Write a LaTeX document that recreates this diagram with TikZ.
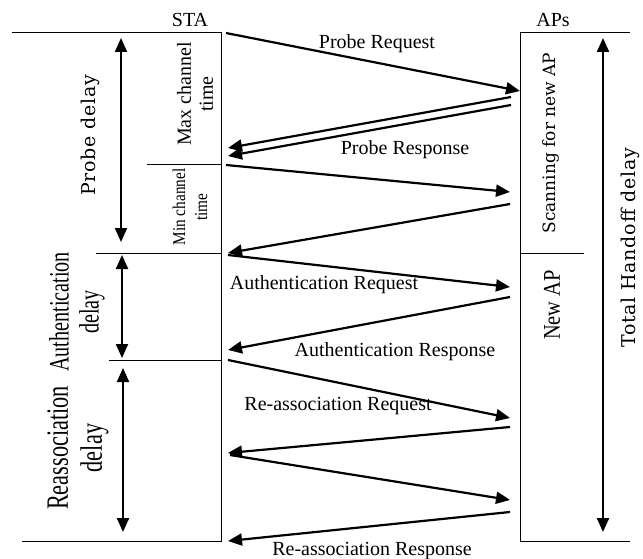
\documentclass[tikz,border=0pt]{standalone}
\usepackage{fontspec}
\setmainfont{Liberation Serif}
\newfontfamily\widefont[LetterSpace=4]{DejaVu Serif}
\newfontfamily\plainwide{DejaVu Serif}
\newfontfamily\narrowfont[FakeStretch=0.72]{Liberation Serif}
\newfontfamily\semifont[FakeStretch=0.85]{Liberation Serif}
\usetikzlibrary{arrows.meta}
\begin{document}
\begin{tikzpicture}[x=1pt,y=-1pt,
  msg/.style={line width=2.2pt,-{Triangle[length=14pt,width=12pt]}},
  span/.style={line width=2.2pt,{Triangle[length=14pt,width=12pt]}-{Triangle[length=14pt,width=12pt]}},
  life/.style={line width=1pt},
  lbl/.style={inner sep=0,font=\fontsize{20}{24}\selectfont}]
  \useasboundingbox (0,0) rectangle (643,559);

  \node (sta) at (190,20) [lbl]{STA};
  \node (aps) at (553,20) [lbl]{APs};

  % STA and AP time lines
  \draw[life] (12,33) -- (221,33) -- (221,541) -- (22,541);
  \draw[life] (147,165) -- (221,165);
  \draw[life] (96,253) -- (221,253);
  \draw[life] (109,360) -- (221,360);
  \draw[life] (630,33) -- (520,33) -- (520,541) -- (630,541);
  \draw[life] (520,253) -- (584,253);

  % message end points
  \coordinate (s1) at (226,33);   \coordinate (a1) at (520,91);
  \coordinate (a2) at (511,97);   \coordinate (s2) at (228,148);
  \coordinate (a3) at (511,105);  \coordinate (s3) at (228,156);
  \coordinate (s4) at (226,165);  \coordinate (a4) at (510,192);
  \coordinate (a5) at (510,204);  \coordinate (s5) at (228,253);
  \coordinate (s6) at (228,255);  \coordinate (a6) at (510,287);
  \coordinate (a7) at (510,297);  \coordinate (s7) at (228,350);
  \coordinate (s8) at (228,360);  \coordinate (a8) at (510,418);
  \coordinate (a9) at (510,427);  \coordinate (s9) at (228,453);
  \coordinate (s10) at (230,455); \coordinate (a10) at (510,500);
  \coordinate (a11) at (510,512); \coordinate (s11) at (228,541);

  \draw[msg] (s1) -- (a1);
  \draw[msg] (a2) -- (s2);
  \draw[msg] (a3) -- (s3);
  \draw[msg] (s4) -- (a4);
  \draw[msg] (a5) -- (s5);
  \draw[msg] (s6) -- (a6);
  \draw[msg] (a7) -- (s7);
  \draw[msg] (s8) -- (a8);
  \draw[msg] (a9) -- (s9);
  \draw[msg] (s10) -- (a10);
  \draw[msg] (a11) -- (s11);

  \node (preq) at (377,44) [lbl]{Probe Request};
  \node (presp) at (405,150) [lbl]{Probe Response};
  \node (areq) at (324,285) [lbl]{Authentication Request};
  \node (aresp) at (395,352) [lbl]{Authentication Response};
  \node (rreq) at (338,406) [lbl]{Re-association Request};
  \node (rresp) at (372,551) [lbl]{Re-association Response};

  % delays
  \coordinate (pd1) at (121,38);  \coordinate (pd2) at (121,242);
  \coordinate (ad1) at (122,255); \coordinate (ad2) at (122,358);
  \coordinate (rd1) at (123,368); \coordinate (rd2) at (123,532);
  \coordinate (td1) at (603,38);  \coordinate (td2) at (603,532);

  \draw[span] (pd1) -- (pd2);
  \draw[span] (ad1) -- (ad2);
  \draw[span] (rd1) -- (rd2);
  \draw[span] (td1) -- (td2);

  \node (probed) at (90,135) [rotate=90,font=\widefont\fontsize{19}{23}\selectfont]{Probe delay};
  \node (maxch) at (195,94) [rotate=90,align=center,font=\fontsize{20}{22}\selectfont]{Max channel\\time};
  \node (minch) at (190,207) [rotate=90,align=center,font=\semifont\fontsize{18}{22}\selectfont]{Min channel\\time};
  \node (authd) at (77,312) [rotate=90,align=center,font=\narrowfont\fontsize{28}{30}\selectfont]{Authentication\\delay};
  \node (reassd) at (78,448) [rotate=90,align=center,font=\narrowfont\fontsize{31}{34}\selectfont]{Reassociation\\delay};
  \node (scan) at (551,143) [rotate=90,font=\plainwide\fontsize{17}{20}\selectfont]{Scanning for new AP};
  \node (newap) at (552,305) [rotate=90,font=\semifont\fontsize{24}{28}\selectfont]{New AP};
  \node (total) at (630,248) [rotate=90,font=\widefont\fontsize{19}{23}\selectfont]{Total Handoff delay};

\end{tikzpicture}
\end{document}
